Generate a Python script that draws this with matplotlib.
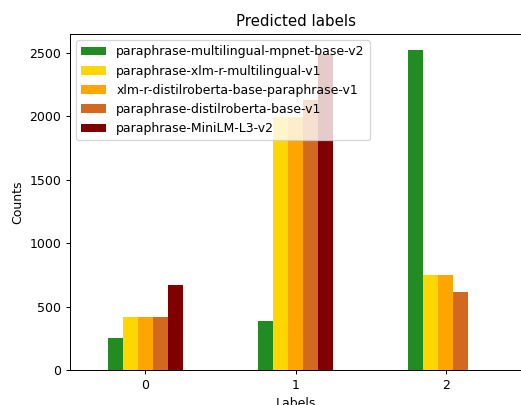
import matplotlib
matplotlib.use("Agg")
import matplotlib.pyplot as plt
import pandas as pd

# predicted label counts per model
labels = [0, 1, 2]
models = [
    "paraphrase-multilingual-mpnet-base-v2",
    "paraphrase-xlm-r-multilingual-v1",
    "xlm-r-distilroberta-base-paraphrase-v1",
    "paraphrase-distilroberta-base-v1",
    "paraphrase-MiniLM-L3-v2",
]
mpnet = [251, 385, 2520]
xlm_r = [415, 1990, 751]
xlm_distil = [415, 1990, 751]
distilroberta = [415, 2127, 615]
minilm = [666, 2490, 0]
colors = ["forestgreen", "gold", "orange", "chocolate", "maroon"]

df = pd.DataFrame(
    {m: v for m, v in zip(models, [mpnet, xlm_r, xlm_distil, distilroberta, minilm])},
    index=labels,
)

dpi = 90
fig = plt.figure(figsize=(521 / dpi, 405 / dpi), dpi=dpi)
ax = fig.add_axes([70 / 521, 35 / 405, 451 / 521, 336 / 405])
df.plot.bar(ax=ax, color=colors, rot=0)

ax.set_title("Predicted labels")
ax.set_xlabel("Labels")
ax.set_ylabel("Counts")
ax.legend(loc="upper left")

fig.savefig("out.png", dpi=dpi)
